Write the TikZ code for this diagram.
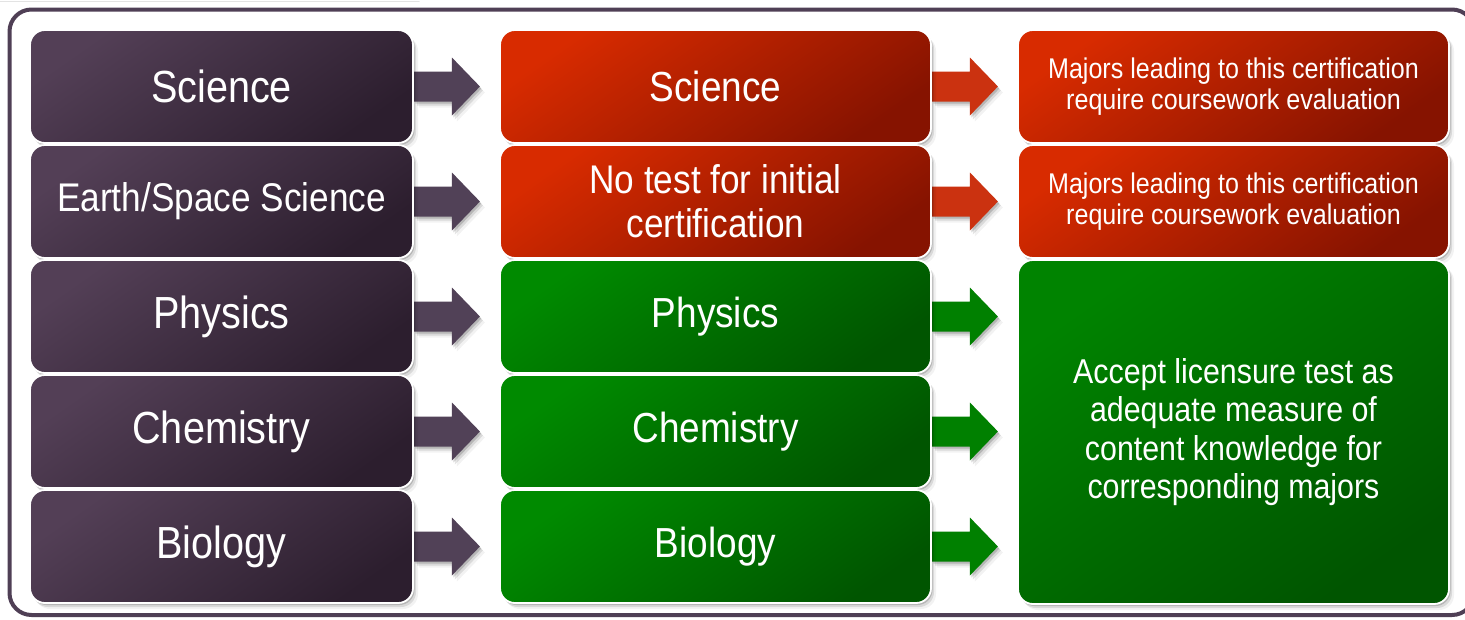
\documentclass[tikz,border=0pt]{standalone}
\usepackage{fontspec}
\setmainfont[FakeStretch=0.88]{Liberation Sans}
\usetikzlibrary{shadows,calc}
\definecolor{pL}{HTML}{533F56}
\definecolor{pD}{HTML}{2C1E2E}
\definecolor{pA}{HTML}{514157}
\definecolor{rL}{HTML}{D82B00}
\definecolor{rD}{HTML}{861300}
\definecolor{rA}{HTML}{CB3210}
\definecolor{gL}{HTML}{008A00}
\definecolor{gD}{HTML}{005500}
\definecolor{gA}{HTML}{008000}
\definecolor{framec}{HTML}{4F3F55}
\pgfdeclarelayer{bg}
\pgfsetlayers{bg,main}
\tikzset{
  softshadow/.style={
    drop shadow={shadow xshift=1.5pt,shadow yshift=-2pt,opacity=0.16,fill=black},
    drop shadow={shadow xshift=3pt,shadow yshift=-4pt,opacity=0.10,fill=black},
    drop shadow={shadow xshift=5pt,shadow yshift=-6pt,opacity=0.05,fill=black}},
  box/.style={draw=white, line width=1.8pt, rounded corners=15pt,
    minimum height=113pt, inner sep=0pt, text=white, align=center, softshadow},
  pbox/.style={box, top color=pL, bottom color=pD, shading angle=35,
    minimum width=383pt, font=\fontsize{45}{50}\selectfont},
  rbox/.style={box, top color=rL, bottom color=rD, shading angle=35,
    minimum width=431pt, font=\fontsize{42}{44}\selectfont},
  gbox/.style={box, top color=gL, bottom color=gD, shading angle=35,
    minimum width=431pt, font=\fontsize{42}{44}\selectfont},
  smalltxt/.style={font=\fontsize{28.5}{31}\selectfont},
  midtxt/.style={font=\fontsize{34.5}{38.5}\selectfont},
  barrow/.style={softshadow},
}
\newcommand\blockarrow[2]{%
  \fill[barrow, #2] ($(#1.east)+(0,15)$) -- ++(38,0) -- ++(0,14) -- ++(28,-29)
    -- ++(-28,-29) -- ++(0,14) -- ++(-38,0) -- cycle;}
\begin{document}
\begin{tikzpicture}[x=1pt,y=1pt]
\useasboundingbox (0,0) rectangle (1465,-619);
% column 1
\node[pbox] (a1) at (221.5,-86.5) {Science};
\node[pbox, font=\fontsize{40}{44}\selectfont] (a2) at (221.5,-201.5) {Earth/Space Science};
\node[pbox] (a3) at (221.5,-316.5) {Physics};
\node[pbox] (a4) at (221.5,-431.5) {Chemistry};
\node[pbox] (a5) at (221.5,-546.5) {Biology};
% column 2
\node[rbox] (b1) at (715.5,-86.5) {Science};
\node[rbox, font=\fontsize{40}{44}\selectfont] (b2) at (715.5,-201.5) {No test for initial\\certification};
\node[gbox] (b3) at (715.5,-316.5) {Physics};
\node[gbox] (b4) at (715.5,-431.5) {Chemistry};
\node[gbox] (b5) at (715.5,-546.5) {Biology};
% column 3
\node[rbox, smalltxt] (c1) at (1233.5,-86.5) {Majors leading to this certification\\require coursework evaluation};
\node[rbox, smalltxt] (c2) at (1233.5,-201.5) {Majors leading to this certification\\require coursework evaluation};
\node[gbox, midtxt, minimum height=344pt, top color=gL!95!black, bottom color=gD, shading angle=35] (c3) at (1233.5,-432) {Accept licensure test as\\adequate measure of\\content knowledge for\\corresponding majors};
\begin{pgfonlayer}{bg}
\fill[white] (0,0) rectangle (1465,-619);
\draw[gray!22, line width=1.5pt, line cap=round] (0,-1.5) -- (419,-1.5);
\draw[framec, line width=4pt, rounded corners=22pt] (9.5,-9.5) rectangle (1474,-615);
\foreach \i in {1,...,5} {\blockarrow{a\i}{pA}}
\blockarrow{b1}{rA}
\blockarrow{b2}{rA}
\blockarrow{b3}{gA}
\blockarrow{b4}{gA}
\blockarrow{b5}{gA}
\end{pgfonlayer}
\end{tikzpicture}
\end{document}
